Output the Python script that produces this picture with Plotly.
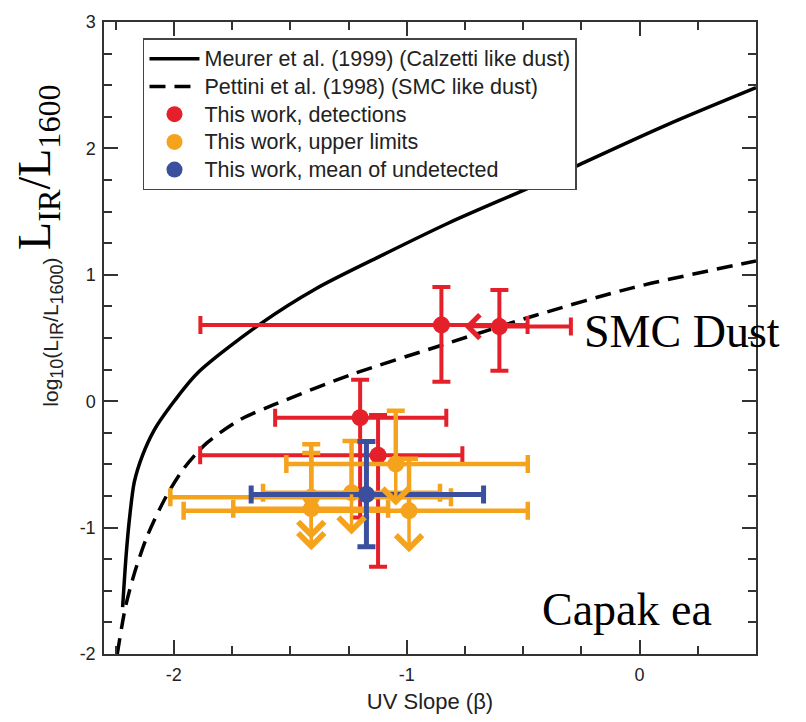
import plotly.graph_objects as go

# ---------------- data ----------------
meurer_beta = [-2.22, -2.205, -2.19, -2.17, -2.135, -2.085, -2.015, -1.90, -1.63, -1.39, -1.10, -0.82, -0.46, -0.26, 0.11, 0.50]
meurer_irx = [-1.63, -1.22, -0.92, -0.64, -0.43, -0.23, -0.04, 0.22, 0.61, 0.89, 1.16, 1.41, 1.70, 1.87, 2.18, 2.48]

pettini_beta = [-2.243, -2.208, -2.172, -2.115, -2.036, -1.958, -1.858, -1.715, -1.573, -1.244, -0.86, -0.445, -0.031, 0.50]
pettini_irx = [-2.0, -1.63, -1.377, -1.07, -0.764, -0.534, -0.33, -0.145, -0.03, 0.207, 0.437, 0.68, 0.897, 1.11]

# detections
det_beta = [-0.851, -0.602, -1.20, -1.123]
det_irx = [0.603, 0.59, -0.13, -0.427]
det_xm = [1.035, 0.0, 0.365, 0.764]
det_xp = [0.37, 0.307, 0.37, 0.362]
det_ym = [0.45, 0.35, 0.79, 0.883]
det_yp = [0.30, 0.29, 0.30, 0.317]
det_left_arrow = [False, True, False, False]

# upper limits
ul_beta = [-1.047, -0.99, -1.237, -1.41, -1.41]
ul_irx = [-0.496, -0.866, -0.725, -0.76, -0.85]
ul_xm = [0.47, 0.968, 0.38, 0.605, 0.335]
ul_xp = [0.567, 0.51, 0.38, 0.6, 0.33]
ul_yp = [0.42, 0.41, 0.41, 0.42, 0.44]

# mean of undetected
mean_beta = [-1.173]
mean_irx = [-0.738]
mean_xm = [0.495]
mean_xp = [0.503]
mean_ym = [0.414]
mean_yp = [0.42]

legend_names = [
    "Meurer et al. (1999) (Calzetti like dust)",
    "Pettini et al. (1998) (SMC like dust)",
    "This work, detections",
    "This work, upper limits",
    "This work, mean of undetected",
]

# ---------------- style ----------------
RED = "#E4202A"
ORANGE = "#F5A21D"
BLUE = "#3B4F9F"
AX = "#333333"
SANS = "Arial, Liberation Sans, Helvetica, sans-serif"
SERIF = "Times New Roman, Liberation Serif, serif"
ARROW_LEN = 0.33


def lname(s):
    return '<span style="font-size:21.5px">' + s + "</span>"


def sub(s, px):
    return '<sub><span style="font-size:%dpx">%s</span></sub>' % (px, s)


fig = go.Figure()

fig.add_trace(go.Scatter(x=meurer_beta, y=meurer_irx, mode="lines",
                         line=dict(color="black", width=3.5, shape="spline", smoothing=0.8),
                         name=lname(legend_names[0])))
fig.add_trace(go.Scatter(x=pettini_beta, y=pettini_irx, mode="lines",
                         line=dict(color="black", width=3.5, dash="16px,9px", shape="spline", smoothing=0.8),
                         name=lname(legend_names[1])))

fig.add_trace(go.Scatter(
    x=det_beta, y=det_irx, mode="markers", name=lname(legend_names[2]),
    marker=dict(color=RED, size=17, line=dict(width=0)),
    error_x=dict(type="data", symmetric=False, array=det_xp, arrayminus=det_xm, color=RED, thickness=4, width=9),
    error_y=dict(type="data", symmetric=False, array=det_yp, arrayminus=det_ym, color=RED, thickness=4, width=9),
))

fig.add_trace(go.Scatter(
    x=ul_beta, y=ul_irx, mode="markers", name=lname(legend_names[3]),
    marker=dict(color=ORANGE, size=17, line=dict(width=0)),
    error_x=dict(type="data", symmetric=False, array=ul_xp, arrayminus=ul_xm, color=ORANGE, thickness=4.5, width=9),
    error_y=dict(type="data", symmetric=False, array=ul_yp, arrayminus=[0] * len(ul_yp), color=ORANGE, thickness=4.5, width=9),
))

fig.add_trace(go.Scatter(
    x=mean_beta, y=mean_irx, mode="markers", name=lname(legend_names[4]),
    marker=dict(color=BLUE, size=17, line=dict(width=0)),
    error_x=dict(type="data", symmetric=False, array=mean_xp, arrayminus=mean_xm, color=BLUE, thickness=5, width=9),
    error_y=dict(type="data", symmetric=False, array=mean_yp, arrayminus=mean_ym, color=BLUE, thickness=5, width=9),
))

annotations = []
# upper-limit arrows
for b, v in zip(ul_beta, ul_irx):
    annotations.append(dict(x=b, y=v - ARROW_LEN, ax=b, ay=v, xref="x", yref="y", axref="x", ayref="y",
                            text="", showarrow=True, arrowhead=4, arrowsize=1.45, arrowwidth=3.5,
                            arrowcolor=ORANGE, standoff=0, startstandoff=0))
# left arrow on a detection
for b, v, la in zip(det_beta, det_irx, det_left_arrow):
    if la:
        annotations.append(dict(x=b - 0.15, y=v, ax=b, ay=v, xref="x", yref="y", axref="x", ayref="y",
                                text="", showarrow=True, arrowhead=4, arrowsize=1.3, arrowwidth=3.5,
                                arrowcolor=RED, standoff=0, startstandoff=0))

annotations += [
    dict(text="SMC Dust", x=0.182, y=0.552, xref="x", yref="y", showarrow=False,
         font=dict(family=SERIF, size=46, color="black"), xanchor="center", yanchor="middle"),
    dict(text="Capak ea", x=-0.056, y=-1.648, xref="x", yref="y", showarrow=False,
         font=dict(family=SERIF, size=46, color="black"), xanchor="center", yanchor="middle"),
    dict(text="L<sub>IR</sub>/L<sub>1600</sub>", x=-0.101, y=0.771, xref="paper", yref="paper",
         showarrow=False, textangle=-90, font=dict(family=SERIF, size=46, color="black"),
         xanchor="center", yanchor="middle"),
    dict(text="log" + sub("10", 18) + "(L" + sub("IR", 18) + "/L" + sub("1600", 18) + ")",
         x=-0.0782, y=0.5084, xref="paper", yref="paper", showarrow=False, textangle=-90,
         font=dict(family=SANS, size=21, color="#222"), xanchor="center", yanchor="middle"),
]

axis_common = dict(
    showline=True, linecolor=AX, linewidth=1.5, mirror="ticks",
    ticks="inside", ticklen=14, tickwidth=1.5, tickcolor=AX,
    showgrid=False, zeroline=False,
    tickfont=dict(family=SANS, size=18, color="#222"),
    minor=dict(dtick=0.25, ticks="inside", ticklen=8, tickwidth=1.5, tickcolor=AX, showgrid=False),
)

fig.update_layout(
    width=806, height=722,
    margin=dict(l=104, r=50, t=15, b=54),
    paper_bgcolor="white", plot_bgcolor="white",
    xaxis=dict(range=[-2.3, 0.5], tickvals=[-2, -1, 0], ticktext=["-2", "-1", "0"],
               title=dict(text="UV Slope (β)", font=dict(family=SANS, size=22, color="#222"), standoff=9),
               ticklabelstandoff=4, **axis_common),
    yaxis=dict(range=[-2, 3], tickvals=[-2, -1, 0, 1, 2, 3], ticktext=["-2", "-1", "0", "1", "2", "3"],
               ticklabelstandoff=3, **axis_common),
    legend=dict(x=0.0598, y=0.974, xanchor="left", yanchor="top",
                bgcolor="white", bordercolor="#444", borderwidth=1.5,
                font=dict(family=SANS, size=19, color="#222"),
                itemwidth=50),
    annotations=annotations,
    showlegend=True,
)

fig.write_html("out.html")
